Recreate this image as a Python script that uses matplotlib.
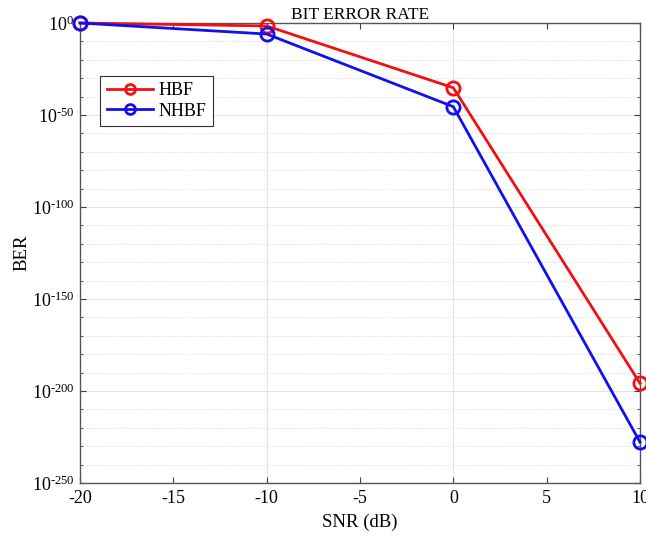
import math
import matplotlib
matplotlib.use("Agg")
import matplotlib.pyplot as plt
from matplotlib.ticker import FixedLocator, FuncFormatter

plt.rcParams['font.family'] = ['Liberation Serif', 'DejaVu Serif']
plt.rcParams['mathtext.fontset'] = 'custom'
plt.rcParams['mathtext.rm'] = 'Liberation Serif'
plt.rcParams['axes.unicode_minus'] = False

snr = [-20, -10, 0, 10]
# BER exponents (BER = 10**exp)
hbf_exp = [0, -1.6, -35.2, -195.8]
nhbf_exp = [0, -6.0, -45.5, -227.8]

hbf = [10.0 ** e for e in hbf_exp]
nhbf = [10.0 ** e for e in nhbf_exp]

fig = plt.figure(figsize=(6.46, 5.38), dpi=100)
ax = fig.add_axes([80 / 646, 1 - 483 / 538, 560 / 646, 460 / 538])

ax.set_yscale('log')
ax.set_xlim(-20, 10)
ax.set_ylim(1e-250, 1e0)

# grid: solid at major decades, dotted every 10 decades
for e in range(-250, 1, 10):
    if e % 50 == 0:
        ax.axhline(10.0 ** e, color='#e3e3e3', lw=0.8, zorder=0)
    else:
        ax.axhline(10.0 ** e, color='#dcdcdc', lw=0.8, ls=(0, (1, 1.5)), zorder=0)
for x in snr[1:-1]:
    ax.axvline(x, color='#e3e3e3', lw=0.8, zorder=0)

ax.plot(snr, hbf, color='#f01010', lw=2, marker='o', ms=9.5, mfc='none',
        mew=2, label='HBF', zorder=3, clip_on=False)
ax.plot(snr, nhbf, color='#1010f0', lw=2, marker='o', ms=9.5, mfc='none',
        mew=2, label='NHBF', zorder=3, clip_on=False)

ax.set_xticks(range(-20, 11, 5))
ax.yaxis.set_major_locator(FixedLocator([10.0 ** e for e in range(-250, 1, 50)]))
ax.yaxis.set_minor_locator(FixedLocator([10.0 ** e for e in range(-250, 1, 10)]))
ax.yaxis.set_minor_formatter(FuncFormatter(lambda v, p: ''))

def fmt(v, p):
    e = int(round(math.log10(v)))
    if e == 0:
        return r'$\mathrm{10^{0}}$'
    return r'$\mathrm{10^{\text{-}%d}}$' % (-e)
ax.yaxis.set_major_formatter(FuncFormatter(fmt))

ax.tick_params(direction='in', which='both', top=True, right=True,
               labelsize=13, colors='#404040', labelcolor='black')
ax.tick_params(which='major', length=4)
ax.tick_params(which='minor', length=2)
ax.tick_params(axis='x', pad=5)
ax.tick_params(axis='y', pad=4)
for s in ax.spines.values():
    s.set_color('#555555')
    s.set_linewidth(1)

ax.set_xlabel('SNR (dB)', fontsize=13.5, labelpad=5)
ax.set_ylabel('BER', fontsize=13.5, labelpad=1)
ax.set_title('BIT ERROR RATE', fontsize=12.5, pad=2)

leg = ax.legend(loc='upper left', bbox_to_anchor=(0.02, 0.905), fontsize=13,
                fancybox=False, edgecolor='#333333', framealpha=1,
                handlelength=2.6, borderpad=0.35, labelspacing=0.2,
                handletextpad=0.3, markerscale=0.75)
leg.get_frame().set_linewidth(0.8)

fig.savefig('out.png', dpi=100)
